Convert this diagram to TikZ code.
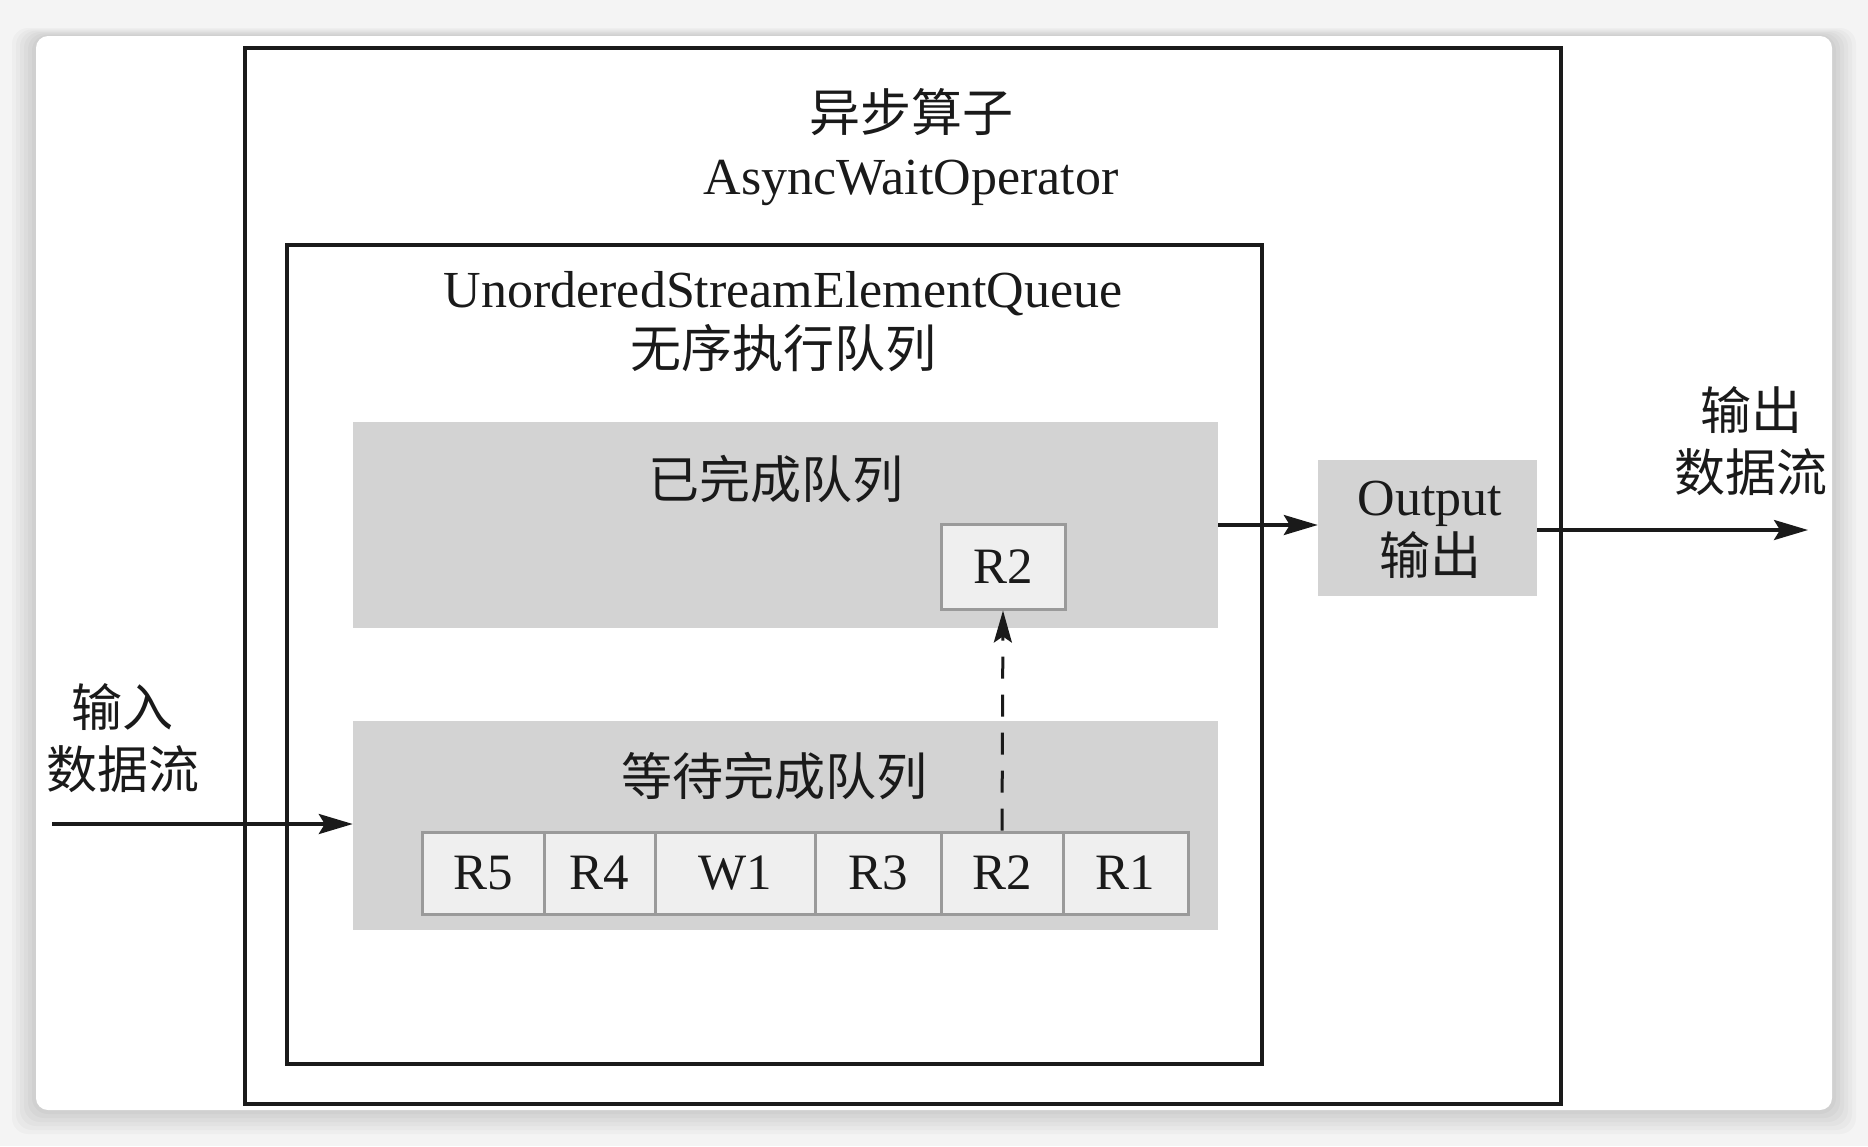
\documentclass[tikz,border=0pt]{standalone}
\usepackage{fontspec}
\setmainfont{Liberation Serif}
\newfontfamily\cjk{Noto Sans CJK SC}
\usetikzlibrary{arrows.meta}
\definecolor{txt}{HTML}{1A1A1A}
\definecolor{qgray}{HTML}{D3D3D3}
\definecolor{cellfill}{HTML}{EFEFEF}
\definecolor{cellline}{HTML}{9A9A9A}
\definecolor{bgout}{HTML}{F4F4F4}
\tikzset{
  frame/.style={draw=txt, line width=4pt},
  qbox/.style={fill=qgray, draw=none},
  cell/.style={draw=cellline, fill=cellfill, line width=3pt, inner sep=0pt,
    minimum height=82pt, text=txt, font=\fontsize{51}{60}\selectfont},
  lat/.style={text=txt, font=\fontsize{52}{60}\selectfont, inner sep=0pt, anchor=base},
  zh/.style={text=txt, font=\cjk\fontsize{51}{60}\selectfont, inner sep=0pt, anchor=base},
  flow/.style={draw=txt, line width=3.5pt, -{Stealth[length=34pt,width=20pt,inset=6pt]}},
  dflow/.style={draw=txt, line width=3pt, dash pattern=on 22pt off 16pt,
    -{Stealth[length=32pt,width=18pt,inset=6pt]}}
}
\begin{document}
\begin{tikzpicture}[x=1pt,y=-1pt]
\useasboundingbox (0,0) rectangle (1868,1146);
% screenshot background and soft card shadow
\fill[bgout] (0,0) rectangle (1868,1146);
\foreach \i in {24,20,16,12,8,4}{
  \fill[black, opacity=0.025, rounded corners=16pt] (36-\i,36-\i/3) rectangle (1832+\i,1110+\i);
}
\fill[white, rounded corners=12pt] (36,36) rectangle (1832,1110);

% outer operator box
\draw[frame] (245,48) rectangle (1561,1104);
\node[zh] (t1) at (911,131) {异步算子};
\node[lat] (t2) at (911,194) {AsyncWaitOperator};

% inner queue box
\draw[frame] (287,245) rectangle (1262,1064);
\node[lat] (q1) at (783,307) {UnorderedStreamElementQueue};
\node[zh] (q2) at (783,367) {无序执行队列};

% completed queue
\node[qbox, minimum width=865pt, minimum height=206pt, inner sep=0pt] (done) at (785.5,525) {};
\node[zh] (donet) at (776,498) {已完成队列};
\node[cell, minimum width=124pt, minimum height=85pt] (r2top) at (1003,566.5) {R2};

% waiting queue
\node[qbox, minimum width=865pt, minimum height=209pt, inner sep=0pt] (wait) at (785.5,825.5) {};
\node[zh] (waitt) at (774,795) {等待完成队列};
\node[cell, minimum width=122pt] (c5) at (483,873) {R5};
\node[cell, minimum width=111pt] (c4) at (599.5,873) {R4};
\node[cell, minimum width=160pt] (w1) at (735,873) {W1};
\node[cell, minimum width=126pt] (c3) at (878,873) {R3};
\node[cell, minimum width=122pt] (c2) at (1002,873) {R2};
\node[cell, minimum width=125pt] (c1) at (1125.5,873) {R1};

\draw[dflow] (c2.north) -- (r2top.south);

% output box
\node[qbox, minimum width=219pt, minimum height=136pt, inner sep=0pt] (out) at (1427.5,528) {};
\node[lat] (o1) at (1430,515) {Output};
\node[zh] (o2) at (1430,574) {输出};

\draw[flow] (done.east) -- (done.east -| out.west);
\coordinate (outend) at (1808,530);
\draw[flow] (out.east |- outend) -- (outend);
\node[zh] (ol1) at (1751,429) {输出};
\node[zh] (ol2) at (1751,491) {数据流};

% input
\coordinate (inst) at (52,824);
\draw[flow] (inst) -- (inst -| wait.west);
\node[zh] (il1) at (122,726) {输入};
\node[zh] (il2) at (123,788) {数据流};
\end{tikzpicture}
\end{document}
